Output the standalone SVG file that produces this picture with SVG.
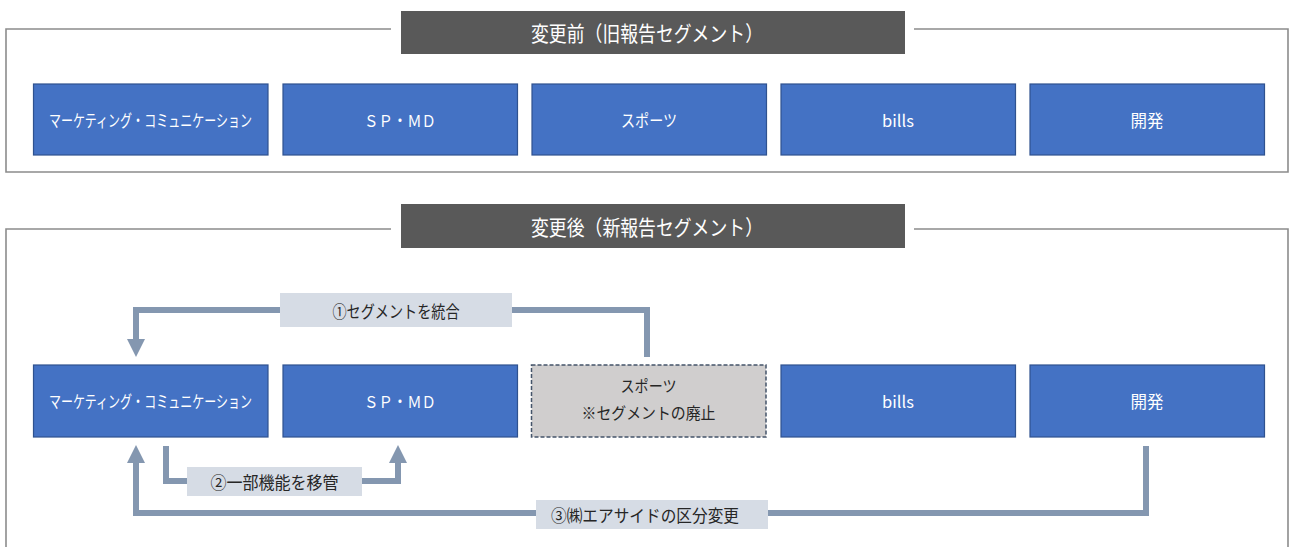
<svg xmlns="http://www.w3.org/2000/svg" width="1290" height="547" viewBox="0 0 1290 547">
  <defs>
    <style>
      .frame { fill: none; stroke: #8c8c8c; stroke-width: 1.6; }
      .title { fill: #595959; }
      .titletext { fill: #ffffff; font-size: 21px; }
      .seg { fill: #4472C4; stroke: #2F528F; stroke-width: 1.2; }
      .segtext { fill: #ffffff; font-size: 16.5px; }
      .abol { fill: #D0CECE; stroke: #44546A; stroke-width: 1.5; stroke-dasharray: 4 2; }
      .abtext { fill: #262626; font-size: 16px; }
      .conn { fill: none; stroke: #8497B0; stroke-width: 6; }
      .lbl { fill: #D6DCE5; }
      .lbltext { fill: #262626; font-size: 17px; }
      text { font-family: "Noto Sans CJK JP", "Noto Sans", sans-serif; text-anchor: middle; dominant-baseline: central; }
    </style>
    <marker id="arr" viewBox="0 0 18 18" refX="0" refY="9" markerWidth="18" markerHeight="18" markerUnits="userSpaceOnUse" orient="auto">
      <path d="M0,0 L18,9 L0,18 Z" fill="#8497B0"/>
    </marker>
  </defs>

  <rect width="1290" height="547" fill="#ffffff"/>

  <!-- Frames -->
  <g id="frames">
    <path class="frame" d="M391,29 H6 V172 H1288 V29 H914"/>
    <path class="frame" d="M391,229 H6 V560 M1288,560 V229 H914"/>
  </g>

  <!-- Section titles -->
  <g id="title-before">
    <rect class="title" x="401" y="11" width="504" height="43"/>
    <text class="titletext" x="647" y="32" textLength="232" lengthAdjust="spacingAndGlyphs">変更前（旧報告セグメント）</text>
  </g>
  <g id="title-after">
    <rect class="title" x="401" y="204" width="504" height="44"/>
    <text class="titletext" x="647" y="226" textLength="232" lengthAdjust="spacingAndGlyphs">変更後（新報告セグメント）</text>
  </g>

  <!-- Before row -->
  <g id="b-marcom">
    <rect class="seg" x="33.5" y="84" width="234.5" height="71"/>
    <text class="segtext" x="150.5" y="119.5" textLength="203" lengthAdjust="spacingAndGlyphs">マーケティング・コミュニケーション</text>
  </g>
  <g id="b-spmd">
    <rect class="seg" x="283" y="84" width="234.5" height="71"/>
    <text class="segtext" x="400" y="119.5" textLength="72" lengthAdjust="spacingAndGlyphs">ＳＰ・ＭＤ</text>
  </g>
  <g id="b-sports">
    <rect class="seg" x="532" y="84" width="234.5" height="71"/>
    <text class="segtext" x="649" y="119.5" textLength="56" lengthAdjust="spacingAndGlyphs">スポーツ</text>
  </g>
  <g id="b-bills">
    <rect class="seg" x="781" y="84" width="234.5" height="71"/>
    <text class="segtext" x="898" y="119.5">bills</text>
  </g>
  <g id="b-dev">
    <rect class="seg" x="1030" y="84" width="234.5" height="71"/>
    <text class="segtext" x="1147" y="119.5">開発</text>
  </g>

  <!-- Connectors -->
  <g id="connectors">
    <path class="conn" d="M647,357 V310 H136 V339" marker-end="url(#arr)"/>
    <path class="conn" d="M166,446 V481 H398 V463" marker-end="url(#arr)"/>
    <path class="conn" d="M1146,446 V513 H136 V463" marker-end="url(#arr)"/>
  </g>

  <!-- Connector labels -->
  <g id="connector-labels">
    <g id="label-1">
      <rect class="lbl" x="280" y="293" width="232" height="34"/>
      <text class="lbltext" x="396" y="310" textLength="127" lengthAdjust="spacingAndGlyphs">①セグメントを統合</text>
    </g>
    <g id="label-2">
      <rect class="lbl" x="187" y="467" width="175" height="29"/>
      <text class="lbltext" x="274.5" y="481.5" textLength="128" lengthAdjust="spacingAndGlyphs">②一部機能を移管</text>
    </g>
    <g id="label-3">
      <rect class="lbl" x="536" y="500" width="232" height="29"/>
      <text class="lbltext" x="645" y="514.5" textLength="188" lengthAdjust="spacingAndGlyphs">③㈱エアサイドの区分変更</text>
    </g>
  </g>

  <!-- After row -->
  <g id="a-marcom">
    <rect class="seg" x="33.5" y="365" width="234.5" height="72"/>
    <text class="segtext" x="150.5" y="401" textLength="203" lengthAdjust="spacingAndGlyphs">マーケティング・コミュニケーション</text>
  </g>
  <g id="a-spmd">
    <rect class="seg" x="283" y="365" width="234.5" height="72"/>
    <text class="segtext" x="400" y="401" textLength="72" lengthAdjust="spacingAndGlyphs">ＳＰ・ＭＤ</text>
  </g>
  <g id="a-sports">
    <rect class="abol" x="531.5" y="365" width="234.5" height="72"/>
    <text class="abtext" x="648.5" y="385" textLength="56" lengthAdjust="spacingAndGlyphs">スポーツ</text>
    <text class="abtext" x="648.5" y="412" textLength="134" lengthAdjust="spacingAndGlyphs">※セグメントの廃止</text>
  </g>
  <g id="a-bills">
    <rect class="seg" x="781" y="365" width="234.5" height="72"/>
    <text class="segtext" x="898" y="401">bills</text>
  </g>
  <g id="a-dev">
    <rect class="seg" x="1030" y="365" width="234.5" height="72"/>
    <text class="segtext" x="1147" y="401">開発</text>
  </g>
</svg>
